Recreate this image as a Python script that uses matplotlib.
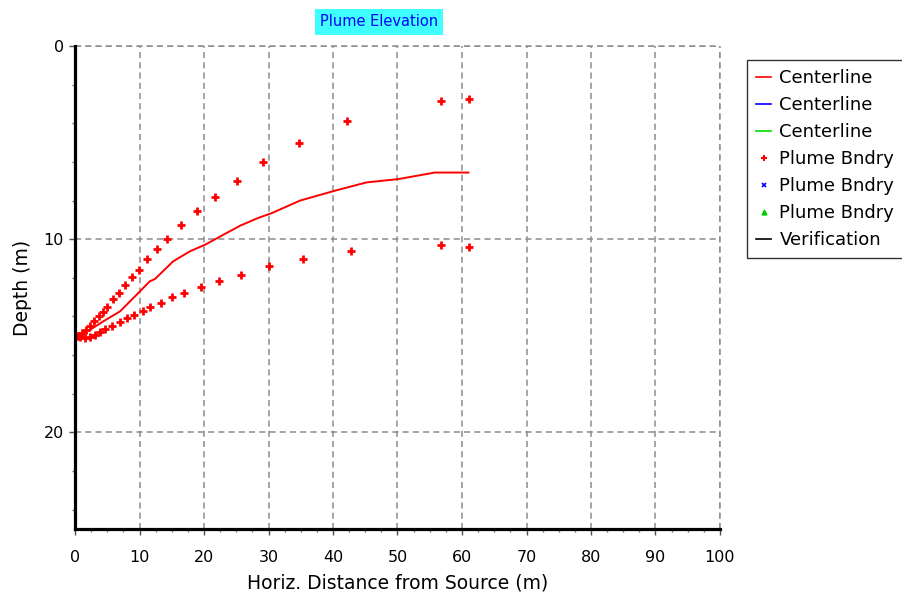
import matplotlib
matplotlib.use("Agg")
import matplotlib.pyplot as plt
from matplotlib.ticker import MultipleLocator
from matplotlib.lines import Line2D

plt.rcParams['font.family'] = ['DejaVu Sans']

# Centerline (red)
center_x = [0, 2.3, 4.4, 7.0, 9.56, 11.6, 12.4, 15.2, 17.8, 20.2, 23.0, 25.6, 28.4,
            30.5, 34.9, 40.4, 45.2, 50.1, 55.8, 61.0]
center_y = [15.0, 14.7, 14.25, 13.73, 12.87, 12.18, 12.06, 11.15, 10.63, 10.28, 9.77,
            9.3, 8.9, 8.65, 8.0, 7.48, 7.06, 6.89, 6.55, 6.55]

# Plume boundary, upper (red +)
upper_x = [0.5, 1.09, 1.7, 2.33, 2.95, 3.67, 4.3, 4.9, 5.84, 6.87, 7.8, 8.84, 9.97,
           11.1, 12.7, 14.3, 16.4, 18.9, 21.7, 25.1, 29.1, 34.8, 42.2, 56.7, 61.1]
upper_y = [14.99, 14.85, 14.68, 14.47, 14.25, 13.99, 13.75, 13.5, 13.09, 12.78, 12.35,
           11.95, 11.58, 11.03, 10.5, 9.99, 9.25, 8.55, 7.8, 6.98, 6.03, 5.0, 3.88,
           2.84, 2.74]

# Plume boundary, lower (red +)
lower_x = [0.26, 0.78, 1.55, 2.33, 3.1, 3.88, 4.65, 5.7, 7.0, 8.1, 9.15, 10.5, 11.6,
           13.3, 15.1, 16.9, 19.5, 22.3, 25.7, 30.1, 35.4, 42.8, 56.7, 61.1]
lower_y = [14.99, 15.05, 15.1, 15.05, 14.94, 14.81, 14.64, 14.47, 14.3, 14.1, 13.94,
           13.73, 13.5, 13.3, 12.99, 12.78, 12.47, 12.14, 11.85, 11.4, 11.0, 10.59,
           10.3, 10.39]

x_ticks = list(range(0, 101, 10))
y_ticks = [0, 10, 20]

W, H = 903, 596
fig = plt.figure(figsize=(W / 100, H / 100), dpi=100)
L, R, T, B = 75, 720, 46, 529
ax = fig.add_axes([L / W, 1 - B / H, (R - L) / W, (B - T) / H])

ax.plot(center_x, center_y, color='#ff0000', lw=1.4, zorder=3)
pb_x = upper_x + lower_x
pb_y = upper_y + lower_y
ax.plot(pb_x, pb_y, ls='none', marker='+', ms=5.5, mew=2.0, color='#ff0000', zorder=3)

ax.set_xlim(0, 100)
ax.set_ylim(25, 0)
ax.set_xticks(x_ticks)
ax.set_yticks(y_ticks)
ax.xaxis.set_minor_locator(MultipleLocator(2.5))
ax.yaxis.set_minor_locator(MultipleLocator(2))
ax.tick_params(which='major', direction='out', length=4, width=1, color='#505050',
               labelsize=11.5)
ax.tick_params(which='minor', direction='out', length=2.5, width=1, color='#707070')
ax.tick_params(axis='x', which='major', pad=11)
ax.tick_params(axis='y', which='major', pad=4)

grid_ls = (0, (4, 2.7))
ax.grid(True, which='major', color='#8c8c8c', ls=grid_ls, lw=1.1)
ax.spines['top'].set_visible(False)
ax.spines['right'].set_visible(False)
ax.spines['left'].set_linewidth(2.3)
ax.spines['bottom'].set_linewidth(2.3)
ax.spines['left'].set_zorder(5)
ax.spines['bottom'].set_zorder(5)
# dashed gridlines serve as top/right borders
ax.axhline(0, color='#8c8c8c', ls=grid_ls, lw=1.1, clip_on=False)
ax.axvline(100, color='#8c8c8c', ls=grid_ls, lw=1.1, clip_on=False)

ax.set_xlabel('Horiz. Distance from Source (m)', fontsize=13.5, labelpad=6)
ax.set_ylabel('Depth (m)', fontsize=13.5, labelpad=8)

fig.text(379 / W, 1 - 22 / H, 'Plume Elevation', ha='center', va='center',
         fontsize=10.5, color='#0000ff',
         bbox=dict(boxstyle='square,pad=0.35', facecolor='#40ffff', edgecolor='none'))

handles = [
    Line2D([], [], color='#ff0000', lw=1.2),
    Line2D([], [], color='#0000ff', lw=1.2),
    Line2D([], [], color='#00dd00', lw=1.2),
    Line2D([], [], ls='none', marker='+', ms=4, mew=1.5, color='#ff0000'),
    Line2D([], [], ls='none', marker='x', ms=3.5, mew=1.2, color='#0000ff'),
    Line2D([], [], ls='none', marker='^', ms=3.5, color='#00cc00'),
    Line2D([], [], color='#000000', lw=1.2),
]
labels = ['Centerline', 'Centerline', 'Centerline', 'Plume Bndry', 'Plume Bndry',
          'Plume Bndry', 'Verification']
leg = fig.legend(handles, labels, loc='upper left', bbox_to_anchor=(747 / W, 1 - 60 / H),
                 fontsize=13, frameon=True, fancybox=False, handlelength=0.85,
                 handletextpad=0.45, borderpad=0.5, labelspacing=0.5, borderaxespad=0)
leg.get_frame().set_edgecolor('#000000')
leg.get_frame().set_linewidth(1.0)

fig.savefig('out.png', dpi=100)
